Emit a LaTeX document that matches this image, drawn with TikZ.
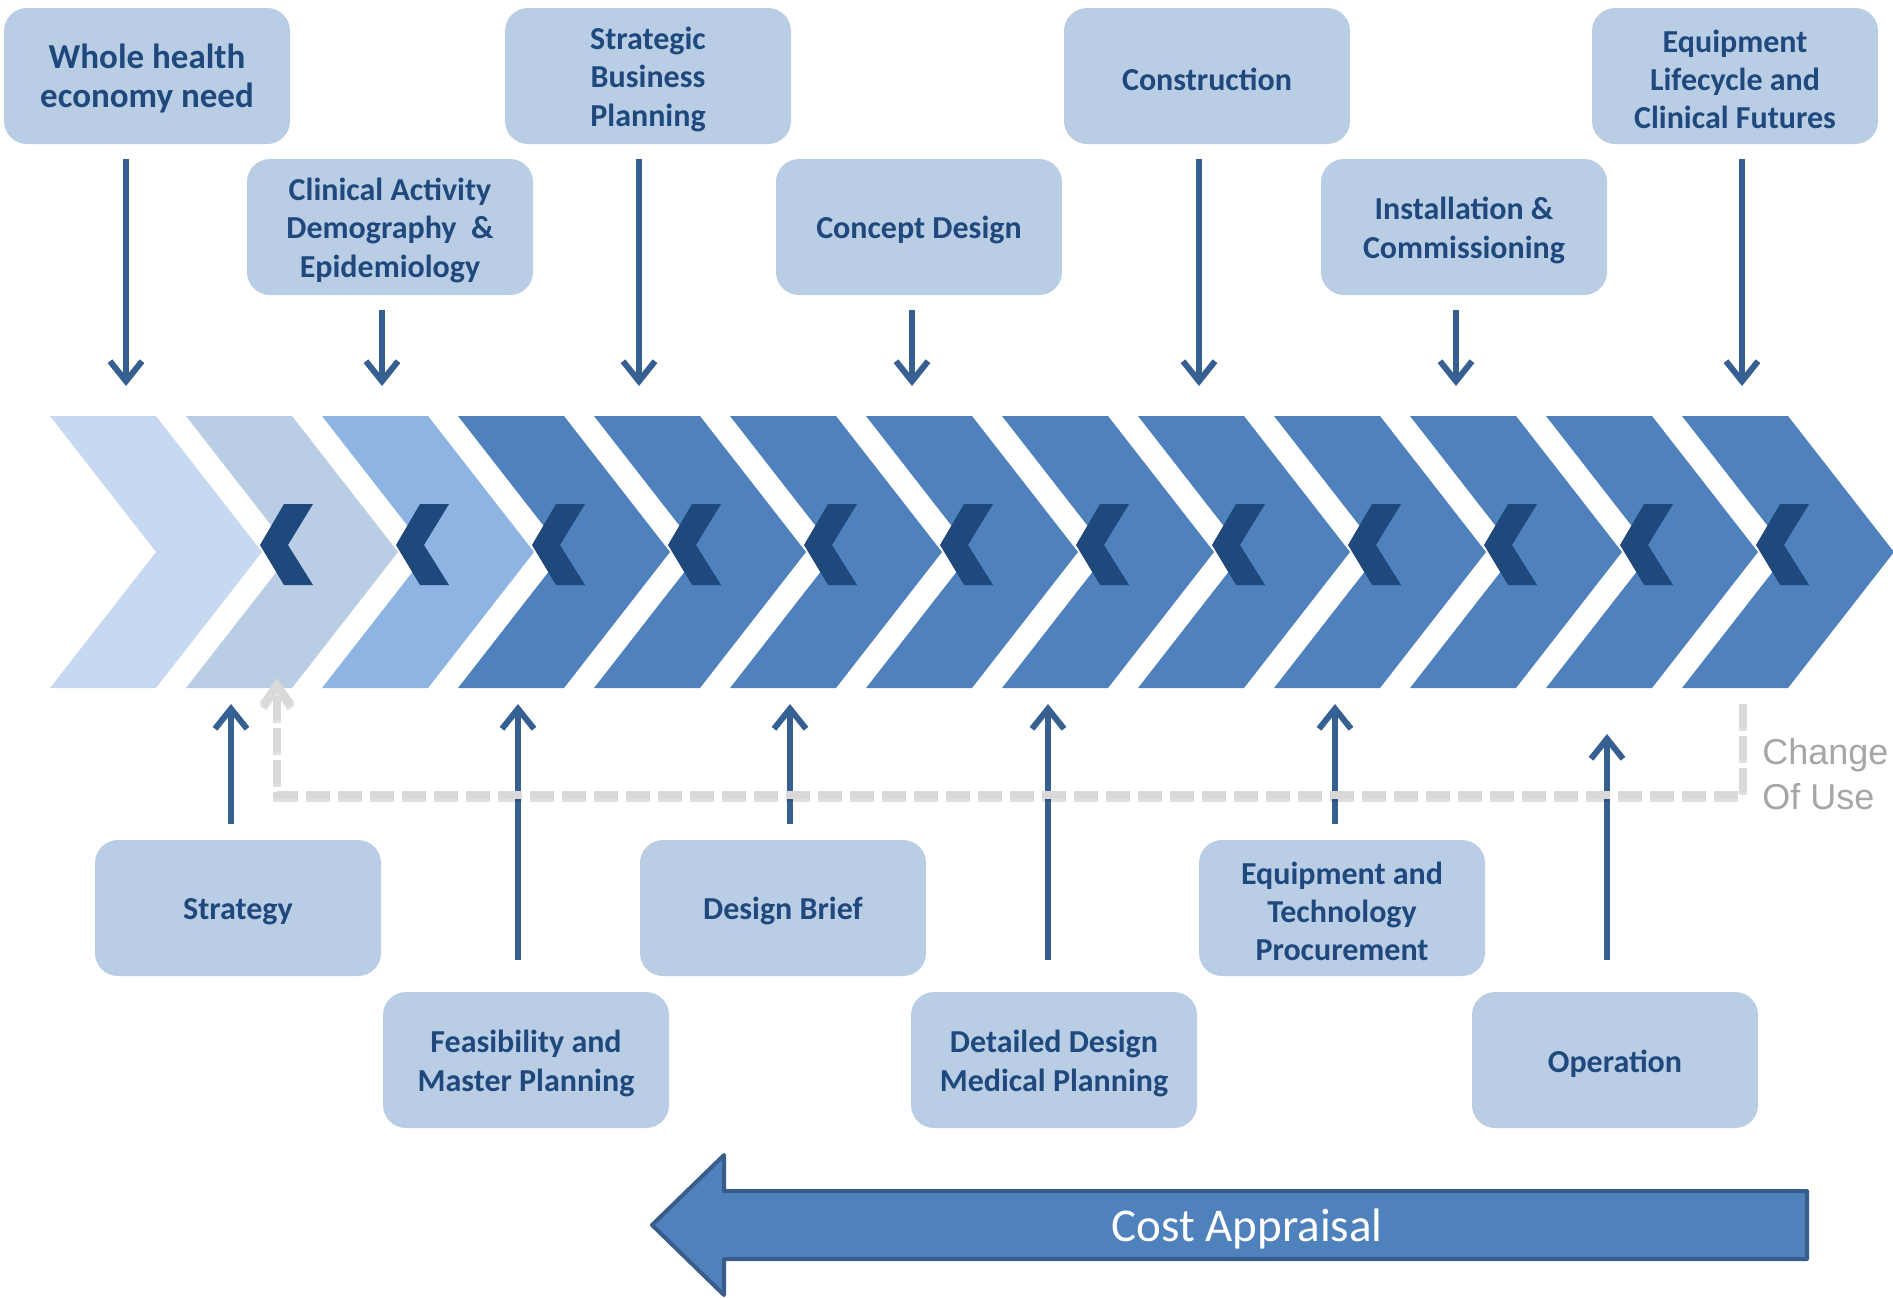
\documentclass[tikz,border=0pt]{standalone}
\usepackage{fontspec}
\setmainfont{Carlito}
\newfontfamily\reusefont{Liberation Sans}
\usepackage{xcolor}
\usetikzlibrary{
    arrows.meta,
    positioning
}
\definecolor{chevA}{HTML}{C6D9F1}
\definecolor{chevB}{HTML}{B9CDE5}
\definecolor{chevC}{HTML}{8EB4E3}
\definecolor{chevD}{HTML}{4F81BD}
\definecolor{notchblue}{HTML}{1F497D}
\definecolor{boxfill}{HTML}{B9CDE5}
\definecolor{boxtext}{HTML}{1F497D}
\definecolor{arrowblue}{HTML}{366092}
\definecolor{reusegrey}{HTML}{D9D9D9}
\definecolor{reusetextgrey}{HTML}{A6A6A6}
\definecolor{costborder}{HTML}{385D8A}
\newcommand{\stagestrut}{\rule{0pt}{14.6pt}}

\begin{document}
\begin{tikzpicture}[x=0.5pt, y=-0.5pt,
    stage/.style={rectangle, rounded corners=11.5pt, fill=boxfill, text=boxtext,
        minimum width=143pt, minimum height=68pt, inner sep=2pt, align=center,
        font=\bfseries\fontsize{16pt}{19.2pt}\selectfont},
    flow/.style={draw=arrowblue, line width=3pt, -{Straight Barb[length=10pt, width=16pt]}},
    reuse/.style={draw=reusegrey, line width=4pt, dash pattern=on 12pt off 4pt,
        -{Straight Barb[length=10pt, width=14pt]}},
    reuseshadow/.style={reuse, draw=black, opacity=0.12, transform canvas={yshift=-1.5pt}},
    notch/.style={fill=notchblue},
    cost/.style={fill=chevD, draw=costborder, line width=2pt, line join=round}]

    \useasboundingbox (0, 0) rectangle (1893, 1297);

    \foreach \c [count=\i from 0] in {chevA, chevB, chevC, chevD, chevD, chevD, chevD,
                                       chevD, chevD, chevD, chevD, chevD, chevD} {
        \begin{scope}[shift={(136*\i, 0)}]
            \fill[\c] (50, 416) -- (156, 416) -- (262, 552) -- (156, 688) -- (50, 688) -- (156, 552) -- cycle;
        \end{scope}
    };
    \foreach \i in {0, ..., 11} {
        \begin{scope}[shift={(136*\i, 0)}]
            \fill[notch] (260, 545) -- (284, 504) -- (313, 504) -- (288, 545) -- (313, 585) -- (284, 585) -- cycle;
        \end{scope}
    };

    \node[stage, font=\bfseries\fontsize{17.5pt}{19.3pt}\selectfont] (need) at (147, 76) {\stagestrut Whole health\\economy need};
    \node[stage] (clinical) at (390, 227) {\stagestrut Clinical Activity\\Demography~~\&\\Epidemiology};
    \node[stage] (business) at (648, 76) {\stagestrut Strategic\\Business\\Planning};
    \node[stage] (concept) at (919, 227) {\stagestrut Concept Design};
    \node[stage] (construct) at (1207, 76) {\stagestrut Construction};
    \node[stage] (install) at (1464, 227) {\stagestrut Installation \&\\Commissioning};
    \node[stage] (lifecycle) at (1735, 76) {\stagestrut Equipment\\Lifecycle and\\Clinical Futures};

    \node[stage] (strategy) at (238, 908) {\stagestrut Strategy};
    \node[stage] (feasible) at (526, 1060) {\stagestrut Feasibility and\\Master Planning};
    \node[stage] (brief) at (783, 908) {\stagestrut Design Brief};
    \node[stage] (detailed) at (1054, 1060) {\stagestrut Detailed Design\\Medical Planning};
    \node[stage] (procure) at (1342, 908) {\stagestrut Equipment and\\Technology\\Procurement};
    \node[stage] (operate) at (1615, 1060) {\stagestrut Operation};

    \coordinate (t1) at (126, 386);
    \coordinate (t2) at (382, 386);
    \coordinate (t3) at (639, 386);
    \coordinate (t4) at (912, 386);
    \coordinate (t5) at (1199, 386);
    \coordinate (t6) at (1456, 386);
    \coordinate (t7) at (1742, 386);

    \coordinate (s1) at (231, 704);
    \coordinate (s2) at (518, 704);
    \coordinate (s3) at (790, 704);
    \coordinate (s4) at (1048, 704);
    \coordinate (s5) at (1335, 704);
    \coordinate (s6) at (1607, 734);

    \draw
    ([yshift=-7.5pt]need.south -| t1) edge[flow] (t1)
    ([yshift=-7.5pt]clinical.south -| t2) edge[flow] (t2)
    ([yshift=-7.5pt]business.south -| t3) edge[flow] (t3)
    ([yshift=-7.5pt]concept.south -| t4) edge[flow] (t4)
    ([yshift=-7.5pt]construct.south -| t5) edge[flow] (t5)
    ([yshift=-7.5pt]install.south -| t6) edge[flow] (t6)
    ([yshift=-7.5pt]lifecycle.south -| t7) edge[flow] (t7);

    \draw
    ([yshift=7.85pt]strategy.north -| s1) edge[flow] (s1)
    ([yshift=15.85pt]feasible.north -| s2) edge[flow] (s2)
    ([yshift=7.85pt]brief.north -| s3) edge[flow] (s3)
    ([yshift=15.85pt]detailed.north -| s4) edge[flow] (s4)
    ([yshift=7.85pt]procure.north -| s5) edge[flow] (s5)
    ([yshift=15.85pt]operate.north -| s6) edge[flow] (s6);

    \coordinate (cuStart) at (1743, 704);
    \coordinate (cuDown) at (1743, 795);
    \coordinate (cuLeft) at (277, 795);
    \coordinate (cuTip) at (277, 678);
    \draw[reuseshadow] (cuStart) -- (cuDown) -- (cuLeft) -- (cuTip);
    \draw[reuse] (cuStart) -- (cuDown) -- (cuLeft) -- (cuTip);
    \node[anchor=north west, align=left, inner sep=0pt, text=reusetextgrey,
        font=\reusefont\fontsize{18pt}{22.5pt}\selectfont] (change) at (1762, 738) {Change\\Of Use};

    \draw[cost] (652, 1225) -- (724, 1155) -- (724, 1191) -- (1807, 1191) -- (1807, 1259)
        -- (724, 1259) -- (724, 1295) -- cycle;
    \node[text=white, font=\fontsize{23.5pt}{28pt}\selectfont] (appraisal) at (1247, 1229) {Cost Appraisal};
\end{tikzpicture}
\end{document}
